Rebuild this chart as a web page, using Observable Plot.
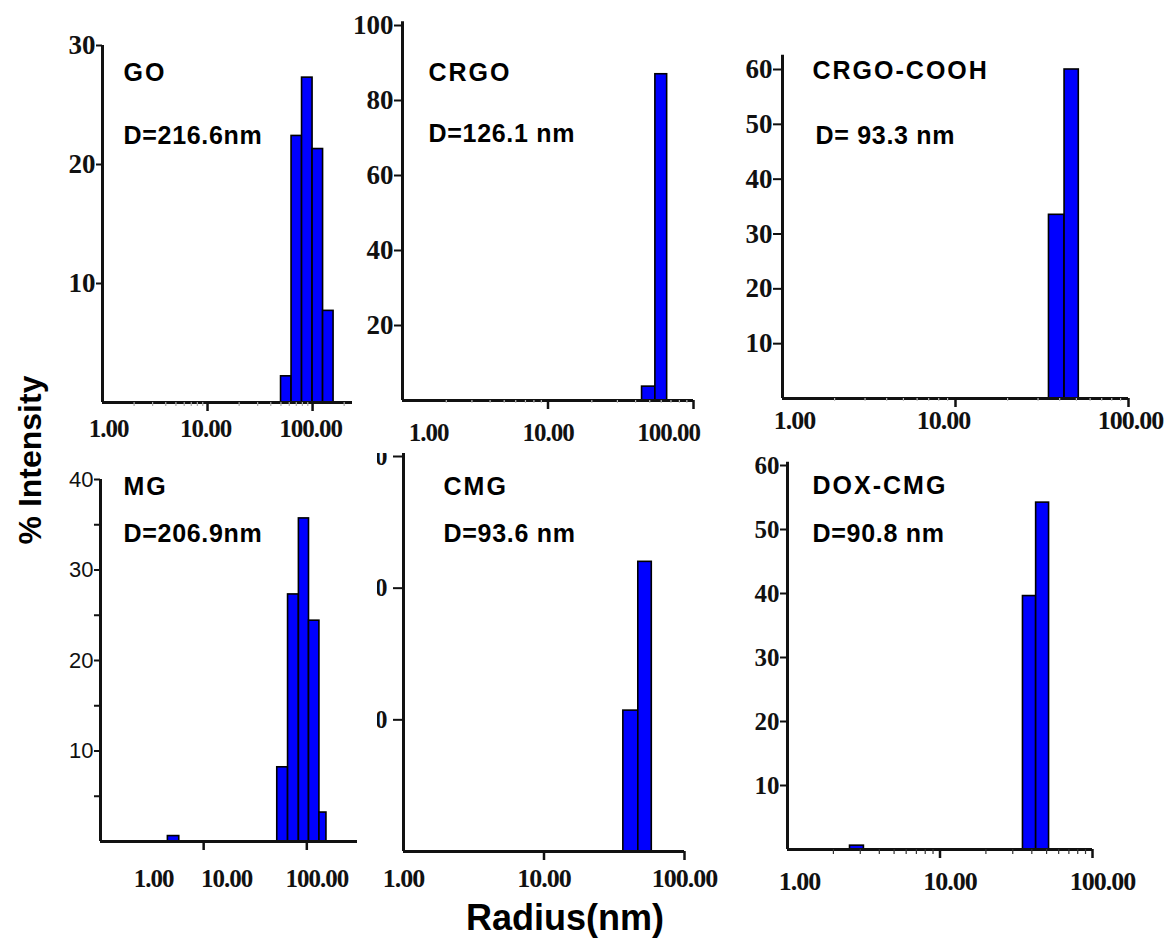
<!DOCTYPE html>
<html>
<head>
<meta charset="utf-8">
<script src="https://cdn.jsdelivr.net/npm/d3@7"></script>
<script src="https://cdn.jsdelivr.net/npm/@observablehq/plot@0.6"></script>
<style>
  body { margin: 0; background: #fff; }
  #fig { position: relative; width: 1169px; height: 949px; overflow: hidden; background: #fff; }
  #fig svg { position: absolute; }
  .lab { position: absolute; font-family: "Liberation Sans", Arial, sans-serif; font-weight: bold; color: #000; white-space: nowrap; }
</style>
</head>
<body>
<div id="fig"></div>
<script>
// ---------- data ----------
const radiusTicks = [1, 10, 100];
const radiusTickLabels = ["1.00", "10.00", "100.00"];

const goBinStart = [50.1, 63.1, 79.4, 100, 125.9];
const goBinEnd   = [63.1, 79.4, 100, 125.9, 158.5];
const goIntensity = [2.2, 22.4, 27.3, 21.3, 7.7];
const goTicksY = [10, 20, 30];

const crgoBinStart = [44.3, 54.7];
const crgoBinEnd   = [54.7, 65.9];
const crgoIntensity = [3.7, 87];
const crgoTicksY = [20, 40, 60, 80, 100];

const coohBinStart = [34.7, 42.7];
const coohBinEnd   = [42.7, 51.6];
const coohIntensity = [33.5, 60];
const coohTicksY = [10, 20, 30, 40, 50, 60];

const mgBinStart = [4.5, 51.7, 65.8, 83.8, 105, 132.5];
const mgBinEnd   = [5.8, 65.8, 83.8, 105, 132.5, 155];
const mgIntensity = [0.6, 8.2, 27.3, 35.7, 24.4, 3.2];
const mgTicksY = [5, 10, 15, 20, 25, 30, 35, 40];

const cmgBinStart = [36.7, 46.9];
const cmgBinEnd   = [46.9, 58.5];
const cmgIntensity = [10.7, 22.0];
const cmgTicksY = [10, 20, 30];

const doxBinStart = [2.57, 35, 42.7];
const doxBinEnd   = [3.17, 42.7, 51.9];
const doxIntensity = [0.6, 39.6, 54.2];
const doxTicksY = [10, 20, 30, 40, 50, 60];

const sampleNames = ["GO", "CRGO", "CRGO-COOH", "MG", "CMG", "DOX-CMG"];
const diameters = ["D=216.6nm", "D=126.1 nm", "D= 93.3 nm", "D=206.9nm", "D=93.6 nm", "D=90.8 nm"];

// ---------- layout ----------
const panels = [
  {i:0, start:goBinStart, end:goBinEnd, values:goIntensity, yTicks:goTicksY,
   left:40, top:15, width:320, height:435, frameL:102, frameR:352, yTop:45, y0:402, yMax:30, yAxisTop:30,
   xDomain:[1, 240], yFamily:"Liberation Serif", yWeight:"bold", yFontSize:27,
   yTickSize:6, yTickPad:1, xLabelDx:[6,-2,-2], xLabelDy:26, xLabelSize:25,
   namePos:[123,72], dPos:[123,135], minorColor:"#aaa", minorLen:4},
  {i:1, start:crgoBinStart, end:crgoBinEnd, values:crgoIntensity, yTicks:crgoTicksY,
   left:350, top:5, width:350, height:445, frameL:402, frameR:693, yTop:25, y0:400, yMax:100, yAxisTop:101,
   xDomain:[1, 100], yFamily:"Liberation Serif", yWeight:"bold", yFontSize:27,
   yTickSize:8, yTickPad:1, xLabelDx:[26,0,-25], xLabelDy:32, xLabelSize:25,
   namePos:[428,72], dPos:[428,133], minorColor:"#bbb", minorLen:3},
  {i:2, start:coohBinStart, end:coohBinEnd, values:coohIntensity, yTicks:coohTicksY,
   left:700, top:40, width:469, height:410, frameL:782, frameR:1128, yTop:69, y0:398, yMax:60, yAxisTop:62.6,
   xDomain:[1, 100], yFamily:"Liberation Serif", yWeight:"bold", yFontSize:27,
   yTickSize:9, yTickPad:1, xLabelDx:[12,-12,2], xLabelDy:22, xLabelSize:26,
   namePos:[812,70], dPos:[815,135], minorColor:"#bbb", minorLen:3},
  {i:3, start:mgBinStart, end:mgBinEnd, values:mgIntensity, yTicks:mgTicksY, yMajorEvery:10,
   left:40, top:450, width:320, height:450, frameL:100, frameR:357, yTop:479, y0:841, yMax:40, yAxisTop:40,
   xDomain:[1, 310], yFamily:"Liberation Sans", yWeight:"normal", yFontSize:22,
   yTickSize:6, yTickPad:1, xLabelDx:[53,23,10], xLabelDy:37, xLabelSize:25,
   namePos:[123,486], dPos:[123,533], minorColor:null, minorLen:0},
  {i:4, start:cmgBinStart, end:cmgBinEnd, values:cmgIntensity, yTicks:cmgTicksY, clip:true,
   left:377, top:453, width:353, height:447, frameL:403, frameR:684, yTop:456, y0:851, yMax:30, yAxisTop:30.3,
   xDomain:[1, 100], yFamily:"Liberation Serif", yWeight:"bold", yFontSize:25,
   yTickSize:10, yTickPad:6, xLabelDx:[0,0,0], xLabelDy:27, xLabelSize:26,
   namePos:[443,486], dPos:[443,533], minorColor:null, minorLen:0},
  {i:5, start:doxBinStart, end:doxBinEnd, values:doxIntensity, yTicks:doxTicksY,
   left:700, top:450, width:469, height:450, frameL:787, frameR:1092, yTop:465, y0:849, yMax:60, yAxisTop:60.5,
   xDomain:[1, 100], yFamily:"Liberation Serif", yWeight:"bold", yFontSize:25,
   yTickSize:7, yTickPad:1, xLabelDx:[12,10,10], xLabelDy:32, xLabelSize:26,
   namePos:[812,485], dPos:[812,533], minorColor:"#333", minorLen:5}
];

function minorTicks(domain) {
  const out = [];
  for (const dec of [1, 10, 100]) for (let k = 2; k <= 9; k++) {
    const v = k * dec;
    if (v > domain[0] && v < domain[1]) out.push(v);
  }
  return out;
}

const fig = document.getElementById("fig");

for (const c of panels) {
  const bins = c.start.map((s, j) => ({lo: s, hi: c.end[j], v: c.values[j]}));
  const pxPerUnit = (c.y0 - c.yTop) / c.yMax;
  const u = px => px / pxPerUnit;
  const [xMin, xMax] = c.xDomain;
  const pxPerDecade = (c.frameR - c.frameL) / Math.log10(xMax / xMin);
  const xAt = px => xMin * Math.pow(10, px / pxPerDecade);   // x value px pixels right of the y axis
  const majors = radiusTicks.filter(t => t > xMin && t <= xMax);
  const every = c.yMajorEvery;
  const yTickData = c.yTicks.map(t => ({y: t, a: xAt(-c.yTickSize), b: xMin,
    s: every ? (t % every === 0 ? String(t) : "") : String(t)}));

  const marks = [
    Plot.rect(bins, {x1: "lo", x2: "hi", y1: () => 0, y2: "v", fill: "#0000ff", stroke: "#000", strokeWidth: 1.6}),
    // axis lines
    Plot.ruleY([{y: 0, a: xMin, b: xMax}], {y: "y", x1: "a", x2: "b", stroke: "#111", strokeWidth: 3}),
    Plot.ruleX([{x: xMin, a: 0, b: c.yAxisTop}], {x: "x", y1: "a", y2: "b", stroke: "#111", strokeWidth: 3}),
    // y ticks and labels
    Plot.ruleY(yTickData, {y: "y", x1: "a", x2: "b", stroke: "#111", strokeWidth: 2}),
    Plot.text(yTickData, {y: "y", x: () => xMin, text: "s", textAnchor: "end", dx: -(c.yTickSize + c.yTickPad),
      fontFamily: c.yFamily, fontWeight: c.yWeight, fontSize: c.yFontSize, fill: "#111"}),
    // x ticks
    Plot.ruleX(majors.map(t => ({x: t, a: 0, b: -u(9)})), {x: "x", y1: "a", y2: "b", stroke: "#111", strokeWidth: 2.5})
  ];
  if (c.minorColor) {
    marks.push(Plot.ruleX(minorTicks(c.xDomain).map(t => ({x: t, a: 0, b: -u(c.minorLen)})),
      {x: "x", y1: "a", y2: "b", stroke: c.minorColor, strokeWidth: 1.2}));
  }
  radiusTicks.forEach((t, j) => {
    marks.push(Plot.text([{x: t, y: 0, s: radiusTickLabels[j]}], {
      x: "x", y: "y", text: "s", dx: c.xLabelDx[j], dy: c.xLabelDy,
      fontFamily: "Liberation Serif", fontWeight: "bold", fontSize: c.xLabelSize, fill: "#111"
    }));
  });
  marks.push(Plot.text([sampleNames[c.i]], {
    text: d => d, frameAnchor: "top-left", textAnchor: "start", lineAnchor: "middle",
    dx: c.namePos[0] - c.frameL, dy: c.namePos[1] - c.yTop,
    fontFamily: "Liberation Sans", fontWeight: "bold", fontSize: 25, fill: "#000"
  }));
  marks.push(Plot.text([diameters[c.i]], {
    text: d => d, frameAnchor: "top-left", textAnchor: "start", lineAnchor: "middle",
    dx: c.dPos[0] - c.frameL, dy: c.dPos[1] - c.yTop,
    fontFamily: "Liberation Sans", fontWeight: "bold", fontSize: 25, fill: "#000"
  }));

  const svg = Plot.plot({
    width: c.width, height: c.height,
    marginLeft: c.frameL - c.left, marginRight: c.left + c.width - c.frameR,
    marginTop: c.yTop - c.top, marginBottom: c.top + c.height - c.y0,
    x: {type: "log", domain: c.xDomain, axis: null},
    y: {domain: [0, c.yMax], axis: null},
    style: "background: transparent; color: #111; overflow: " + (c.clip ? "hidden" : "visible") + ";",
    marks
  });
  svg.style.left = c.left + "px";
  svg.style.top = c.top + "px";
  svg.style.maxWidth = "none";
  d3.select(svg).selectAll("text").each(function () {
    const t = this.textContent;
    const el = d3.select(this);
    if (sampleNames.includes(t)) el.style("letter-spacing", "2px");
    else if (diameters.includes(t)) el.style("letter-spacing", "0.7px");
    else if (radiusTickLabels.includes(t)) el.style("letter-spacing", "-1px");
  });
  fig.appendChild(svg);
}

const yl = document.createElement("div");
yl.className = "lab";
yl.textContent = "% Intensity";
yl.style.cssText += "font-size:32px;left:30px;top:460px;transform:translate(-50%,-50%) rotate(-90deg);";
fig.appendChild(yl);

const xl = document.createElement("div");
xl.className = "lab";
xl.textContent = "Radius(nm)";
xl.style.cssText += "font-size:36px;left:565px;top:918px;transform:translate(-50%,-50%);";
fig.appendChild(xl);
</script>
</body>
</html>
